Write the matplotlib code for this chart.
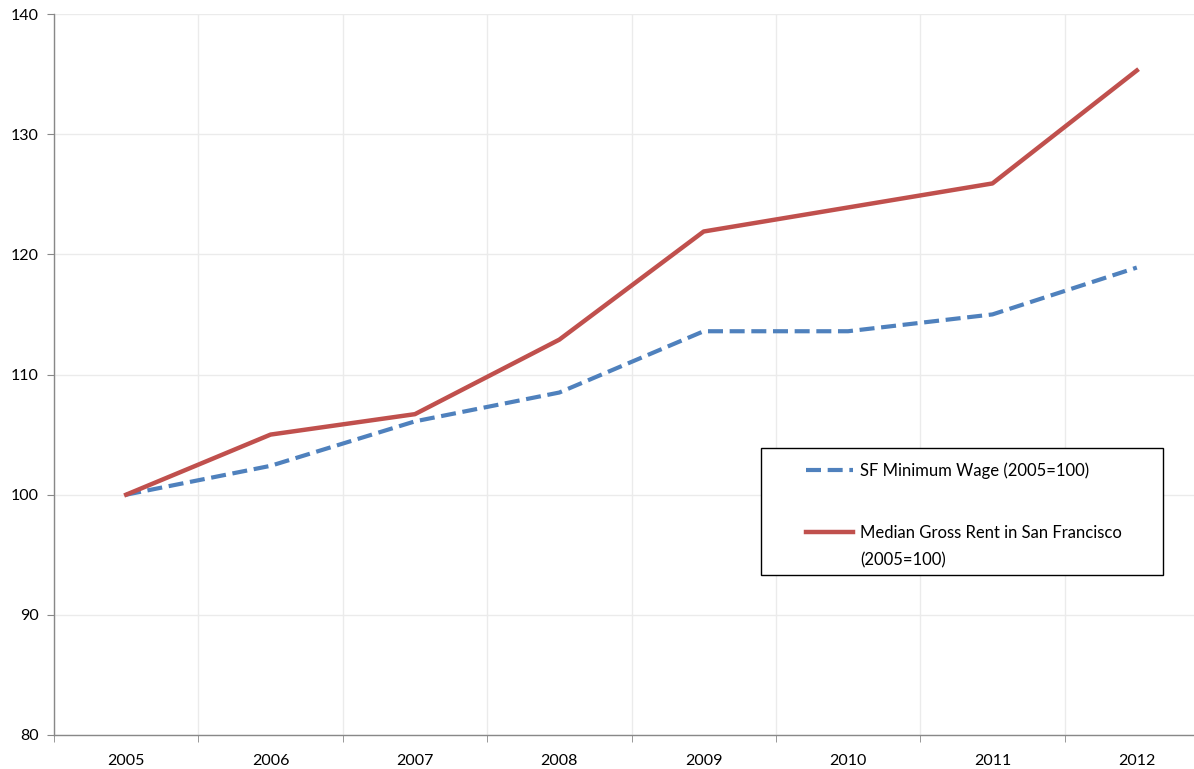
import matplotlib.pyplot as plt
from matplotlib.patches import Rectangle

years = ["2005", "2006", "2007", "2008", "2009", "2010", "2011", "2012"]
min_wage = [100.0, 102.4, 106.1, 108.5, 113.6, 113.6, 115.0, 118.9]
median_rent = [100.0, 105.0, 106.7, 112.9, 121.9, 123.9, 125.9, 135.3]


def main():
    plt.rcParams['font.family'] = ['Lato', 'DejaVu Sans']
    fig = plt.figure(figsize=(11.94, 7.69), dpi=100)
    W, H = 1194, 769
    # plot area: left 54px, bottom 735px, top 14px, right runs past the image edge
    left, right, top, bottom = 54, 1209, 14, 735
    ax = fig.add_axes([left / W, 1 - bottom / H, (right - left) / W, (bottom - top) / H])

    x = list(range(len(years)))
    ax.plot(x, min_wage, color='#4F81BD', lw=3, ls=(0, (3.6, 1.6)),
            label="SF Minimum Wage (2005=100)", solid_capstyle='butt')
    ax.plot(x, median_rent, color='#C0504D', lw=3.2,
            label="Median Gross Rent in San Francisco")

    ax.set_xlim(-0.5, len(years) - 0.5)
    ax.set_ylim(80, 140)
    ax.set_yticks(range(80, 141, 10))

    # category labels centred, tick marks on category boundaries
    ax.set_xticks(x)
    ax.set_xticklabels(years)
    ax.tick_params(axis='x', which='major', length=0, pad=14, labelsize=11.5)
    ax.set_xticks([i - 0.5 for i in x], minor=True)
    ax.tick_params(axis='x', which='minor', length=5, color='#888888', direction='out')
    ax.tick_params(axis='y', length=5, color='#888888', labelsize=11.5, pad=6)

    ax.grid(True, which='minor', axis='x', color='#EBEBEB', lw=1)
    ax.grid(True, which='major', axis='y', color='#EBEBEB', lw=1)
    ax.set_axisbelow(True)

    for s in ['top', 'right']:
        ax.spines[s].set_visible(False)
    for s in ['left', 'bottom']:
        ax.spines[s].set_color('#888888')
        ax.spines[s].set_linewidth(1)

    # legend box drawn separately so its size matches the original
    box = Rectangle((761 / W, 1 - 575 / H), (1163 - 761) / W, (575 - 448) / H,
                    transform=fig.transFigure, facecolor='white', edgecolor='black',
                    lw=1, zorder=5, clip_on=False)
    ax.add_patch(box)

    leg = ax.legend(loc='upper left', bbox_to_anchor=(806 / W, 1 - 462 / H),
                    bbox_transform=fig.transFigure, fontsize=12, frameon=False,
                    handlelength=2.8, labelspacing=2.8, borderpad=0,
                    handletextpad=0.45, borderaxespad=0)
    leg.set_zorder(6)

    # second line of the rent label sits under the legend entry, as in the original
    fig.canvas.draw()
    bb = leg.get_texts()[1].get_window_extent()
    ax.text(bb.x0 / W, (bb.y0 - 27) / H, "(2005=100)", transform=fig.transFigure,
            fontsize=12, ha='left', va='bottom', zorder=7)

    fig.savefig("out.png", dpi=100)


if __name__ == "__main__":
    main()
